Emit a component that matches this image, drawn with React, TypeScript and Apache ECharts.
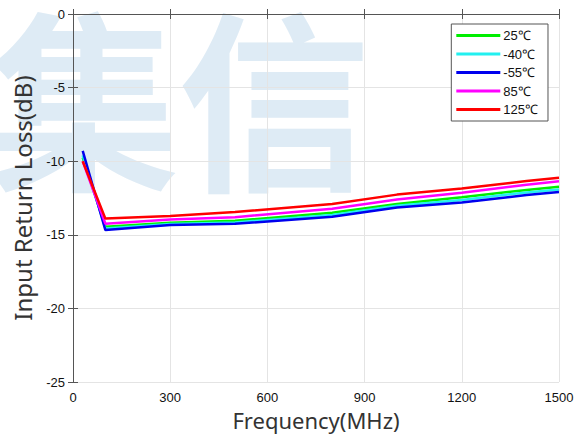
import React, { useEffect, useRef } from "react";
import * as echarts from "echarts";

const freqs = [30, 100, 300, 500, 800, 1000, 1200, 1400, 1500];
const seriesNames = ["25℃", "-40℃", "-55℃", "85℃", "125℃"];
const colors = ["#00ee00", "#22f0f0", "#0000ee", "#ff00ff", "#ff0000"];
const s25 = [-9.75, -14.45, -14.18, -14.05, -13.5, -12.9, -12.45, -11.95, -11.74];
const sm40 = [-9.6, -14.57, -14.26, -14.16, -13.66, -13.03, -12.63, -12.12, -11.92];
const sm55 = [-9.3, -14.68, -14.34, -14.25, -13.77, -13.15, -12.8, -12.3, -12.1];
const s85 = [-10.0, -14.25, -13.96, -13.8, -13.23, -12.6, -12.15, -11.6, -11.36];
const s125 = [-10.0, -13.9, -13.73, -13.45, -12.9, -12.27, -11.85, -11.35, -11.13];
const allSeries = [s25, sm40, sm55, s85, s125];

export default function App() {
  const ref = useRef<HTMLDivElement>(null);
  useEffect(() => {
    const chart = echarts.init(ref.current!, null, { renderer: "svg" });
    const labelFont = "Liberation Sans";
    chart.setOption({
      animation: false,
      backgroundColor: "#ffffff",
      graphic: [
        {
          type: "text",
          left: -12,
          top: -4,
          z: -10,
          silent: true,
          style: {
            text: "集",
            fontSize: 192,
            fontWeight: "bold",
            fontFamily: "Noto Sans CJK SC",
            fill: "#deebf5",
          },
        },
        {
          type: "text",
          left: 178,
          top: -4,
          z: -10,
          silent: true,
          style: {
            text: "信",
            fontSize: 192,
            fontWeight: "bold",
            fontFamily: "Noto Sans CJK SC",
            fill: "#deebf5",
          },
        },
      ],
      grid: { left: 73, right: 25, top: 14, bottom: 53, containLabel: false },
      legend: {
        orient: "vertical",
        right: 36,
        top: 24,
        backgroundColor: "#ffffff",
        borderColor: "#555555",
        borderWidth: 1,
        padding: [5, 10, 5, 5],
        itemWidth: 44,
        itemHeight: 3,
        itemGap: 5.5,
        icon: "rect",
        textStyle: { fontSize: 13, color: "#111", fontFamily: labelFont, padding: [0, 0, 0, -2] },
        data: seriesNames,
      },
      xAxis: [
        {
          type: "value",
          min: 0,
          max: 1500,
          interval: 300,
          name: "Frequency(MHz)",
          nameLocation: "middle",
          nameGap: 27,
          nameTextStyle: { fontSize: 22, color: "#333", fontFamily: "Noto Sans" },
          axisLine: { show: true, lineStyle: { color: "#555", width: 1 } },
          axisTick: { show: true, inside: true, length: 5, lineStyle: { color: "#555" } },
          axisLabel: {
            fontSize: 13,
            color: "#111",
            fontFamily: labelFont,
            margin: 9,
            formatter: (v: number) => String(v),
          },
          splitLine: { show: true, lineStyle: { color: "#e4e4e4", width: 1 } },
        },
        {
          type: "value",
          position: "top",
          min: 0,
          max: 1500,
          interval: 300,
          axisLine: { show: true, lineStyle: { color: "#555", width: 1 } },
          axisTick: { show: true, inside: true, length: 5, lineStyle: { color: "#555" } },
          axisLabel: { show: false },
          splitLine: { show: false },
        },
      ],
      yAxis: [
        {
          type: "value",
          min: -25,
          max: 0,
          interval: 5,
          name: "Input Return Loss(dB)",
          nameLocation: "middle",
          nameGap: 39,
          nameRotate: 90,
          nameTextStyle: { fontSize: 24, color: "#333", fontFamily: "Noto Sans" },
          axisLine: { show: true, lineStyle: { color: "#555", width: 1 } },
          axisTick: { show: true, inside: true, length: 5, lineStyle: { color: "#555" } },
          axisLabel: { fontSize: 13, color: "#111", fontFamily: labelFont, margin: 8 },
          splitLine: { show: true, lineStyle: { color: "#e4e4e4", width: 1 } },
        },
        {
          type: "value",
          position: "right",
          min: -25,
          max: 0,
          interval: 5,
          axisLine: { show: true, lineStyle: { color: "#555", width: 1 } },
          axisTick: { show: true, inside: true, length: 5, lineStyle: { color: "#555" } },
          axisLabel: { show: false },
          splitLine: { show: false },
        },
      ],
      series: allSeries.map((vals, i) => ({
        name: seriesNames[i],
        type: "line",
        xAxisIndex: 0,
        yAxisIndex: 0,
        showSymbol: false,
        symbol: "none",
        color: colors[i],
        lineStyle: { width: 2.5, color: colors[i] },
        data: freqs.map((f, j) => [f, vals[j]]),
      })),
    });
    return () => chart.dispose();
  }, []);
  return <div ref={ref} style={{ width: 584, height: 436, position: "absolute", left: 0, top: 0 }} />;
}
